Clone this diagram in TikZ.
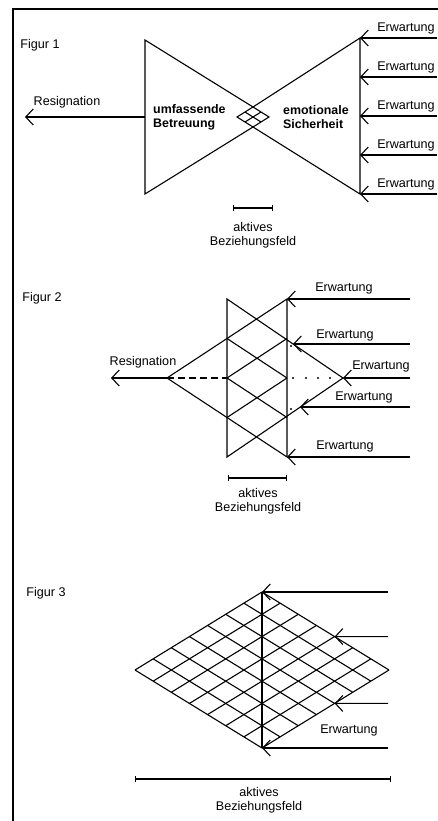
\documentclass[tikz,border=0pt]{standalone}
\usepackage{fontspec}
\setmainfont{Liberation Sans}
\usetikzlibrary{arrows.meta,calc}
\begin{document}
\begin{tikzpicture}[x=1pt,y=-1pt,
  ln/.style={line width=1.1pt},
  arr/.style={ln,-{Straight Barb[length=7.5pt,width=16pt]}},
  lbl/.style={inner sep=0pt,font=\fontsize{12.6}{14}\selectfont},
  blbl/.style={inner sep=0pt,align=left,anchor=west,font=\fontsize{12.4}{14}\selectfont\bfseries},
  scalebar/.style={ln,{Bar[width=6pt]}-{Bar[width=6pt]}},
  frameline/.style={line width=2pt},
  dotmark/.style={fill=black}
]
\useasboundingbox (0,0) rectangle (437,821);
\draw[frameline] (13,825) -- (13,9) -- (440,9);

% ---------------- Figur 1 ----------------
\node[lbl] (fig1) at (40,45) {Figur 1};
\coordinate (f1lt) at (145,40);
\coordinate (f1lb) at (145,194);
\coordinate (f1rt) at (360,38);
\coordinate (f1rb) at (360,194);
\coordinate (dT) at (253,107);
\coordinate (dR) at (269,117);
\coordinate (dB) at (253,127);
\coordinate (dL) at (237,117);
\draw[ln] (f1lt) -- (dT) -- (f1rt) -- (f1rb) -- (dB) -- (f1lb) -- cycle;
\draw[ln] (dT) -- (dR) -- (dB) -- (dL) -- cycle;
\draw[ln] ($(dT)!0.5!(dL)$) -- ($(dR)!0.5!(dB)$);
\draw[ln] ($(dT)!0.5!(dR)$) -- ($(dL)!0.5!(dB)$);
\coordinate (f1l) at (145,117);
\coordinate (f1res) at (25,117);
\draw[arr] (f1l) -- (f1res);
\node[lbl] (res1) at (67,102) {Resignation};
\node[blbl] (umf) at (153,117) {umfassende\\Betreuung};
\node[blbl] (emo) at (283,117) {emotionale\\Sicherheit};
\foreach \i in {0,...,4} {
  \pgfmathsetmacro{\yy}{38+39*\i}
  \coordinate (e1s\i) at (437,\yy);
  \coordinate (e1t\i) at (360,\yy);
  \draw[arr] (e1s\i) -- (e1t\i);
  \node[lbl] (e1l\i) at (406,\yy-10) {Erwartung};
}
\coordinate (b1a) at (233,208);
\coordinate (b1b) at (273,208);
\draw[scalebar] (b1a) -- (b1b);
\node[lbl,align=center] (akt1) at (253,235) {aktives\\Beziehungsfeld};

% ---------------- Figur 2 ----------------
\node[lbl] (fig2) at (42,298) {Figur 2};
\coordinate (aA) at (167,378);
\coordinate (aT) at (287,299);
\coordinate (aB) at (287,457);
\coordinate (bT) at (227,299);
\coordinate (bB) at (227,457);
\coordinate (bA) at (343,378);
\draw[ln] (aA) -- (aT) -- (aB) -- cycle;
\draw[ln] (bT) -- (bA) -- (bB) -- cycle;
\foreach \k in {0,...,4} {
  \coordinate (L\k) at ($(bT)!\k/4!(bB)$);
  \coordinate (R\k) at ($(aT)!\k/4!(aB)$);
}
\draw[ln] (L1) -- (R2) (L2) -- (R1) (L2) -- (R3) (L3) -- (R2);
\draw[ln,dash pattern=on 7pt off 4pt] (aA) -- (L2);
\coordinate (f2res) at (111,378);
\draw[arr] (aA) -- (f2res);
\node[lbl] (res2) at (143,362) {Resignation};
\coordinate (e2s1) at (410,299);
\coordinate (e2s2) at (410,344);
\coordinate (e2t2) at (293,344);
\coordinate (e2s3) at (410,378);
\coordinate (e2s4) at (410,407);
\coordinate (e2t4) at (300,407);
\coordinate (e2s5) at (410,457);
\draw[arr] (e2s1) -- (aT);
\draw[arr] (e2s2) -- (e2t2);
\draw[arr] (e2s3) -- (bA);
\draw[arr] (e2s4) -- (e2t4);
\draw[arr] (e2s5) -- (aB);
\node[lbl] (e2l1) at (344,288) {Erwartung};
\node[lbl] (e2l2) at (345,335) {Erwartung};
\node[lbl] (e2l3) at (381,366) {Erwartung};
\node[lbl] (e2l4) at (364,397) {Erwartung};
\node[lbl] (e2l5) at (345,446) {Erwartung};
\foreach \p in {(291,346),(291,409),(293,378),(306,378),(318,378),(330,378)} {
  \fill[dotmark] \p circle (1.1pt);
}
\coordinate (b2a) at (228,478);
\coordinate (b2b) at (287,478);
\draw[scalebar] (b2a) -- (b2b);
\node[lbl,align=center] (akt2) at (258,501) {aktives\\Beziehungsfeld};

% ---------------- Figur 3 ----------------
\node[lbl] (fig3) at (46,593) {Figur 3};
\coordinate (T) at (262,592);
\coordinate (L) at (135,670);
\coordinate (R) at (389,670);
\coordinate (B) at (262,748);
\foreach \i in {0,...,7} {
  \draw[ln] ($(L)!\i/7!(T)$) -- ($(B)!\i/7!(R)$);
  \draw[ln] ($(L)!\i/7!(B)$) -- ($(T)!\i/7!(R)$);
}
\draw[line width=2.6pt] (T) -- (B);
\coordinate (e3s1) at (388,592);
\coordinate (e3t2) at ($(T)!4/7!(R)$);
\coordinate (e3s2) at (388,636.6);
\coordinate (e3t3) at ($(R)!3/7!(B)$);
\coordinate (e3s3) at (388,703.4);
\coordinate (e3s4) at (388,748);
\draw[arr] (e3s1) -- (T);
\draw[arr] (e3s2) -- (e3t2);
\draw[arr] (e3s3) -- (e3t3);
\draw[arr] (e3s4) -- (B);
\node[lbl] (e3l) at (349,730) {Erwartung};
\coordinate (b3a) at (135,779);
\coordinate (b3b) at (391,779);
\draw[scalebar] (b3a) -- (b3b);
\node[lbl,align=center] (akt3) at (259,800) {aktives\\Beziehungsfeld};
\end{tikzpicture}
\end{document}
